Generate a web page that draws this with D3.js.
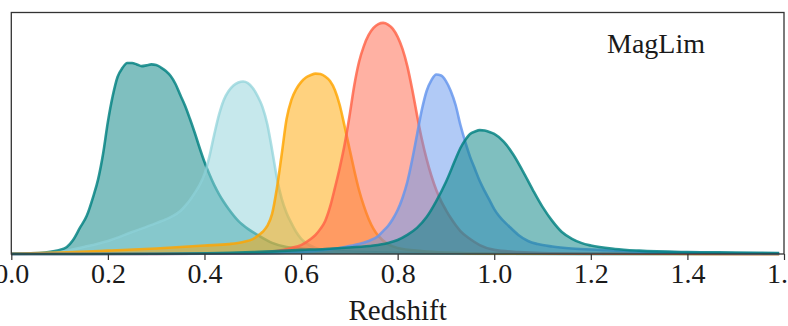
<!DOCTYPE html>
<html>
<head>
<meta charset="utf-8">
<script src="https://cdn.jsdelivr.net/npm/d3@7"></script>
<style>
  html, body { margin: 0; padding: 0; background: #fff; }
  svg { display: block; }
</style>
</head>
<body>
<svg id="chart" width="788" height="326"></svg>
<script>
// Redshift distributions n(z) of the six MagLim tomographic bins, [z, n(z)] pairs
const bin1 = [[0.00,0.02],[0.04,0.03],[0.07,0.06],[0.09,0.12],[0.10,0.17],[0.115,0.29],[0.128,0.58],[0.142,1.08],[0.156,1.57],[0.17,2.40],[0.18,3.11],[0.19,4.14],[0.20,5.47],[0.21,6.54],[0.22,7.33],[0.23,7.70],[0.24,7.91],[0.25,7.91],[0.26,7.85],[0.27,7.78],[0.28,7.81],[0.29,7.85],[0.30,7.83],[0.31,7.72],[0.32,7.58],[0.33,7.37],[0.34,7.04],[0.35,6.58],[0.36,6.13],[0.37,5.59],[0.38,5.01],[0.39,4.39],[0.40,3.81],[0.41,3.31],[0.42,2.86],[0.43,2.48],[0.44,2.15],[0.45,1.86],[0.47,1.37],[0.49,1.04],[0.51,0.79],[0.54,0.46],[0.57,0.29],[0.60,0.23],[0.65,0.14],[0.70,0.10],[0.80,0.05],[0.90,0.02],[1.00,0.01],[1.20,0.00],[1.59,0.00]];
const bin2 = [[0.00,0.00],[0.05,0.02],[0.10,0.08],[0.15,0.29],[0.20,0.54],[0.25,0.91],[0.30,1.28],[0.33,1.53],[0.35,1.78],[0.36,1.99],[0.37,2.24],[0.38,2.53],[0.39,2.86],[0.40,3.31],[0.41,4.02],[0.42,4.93],[0.43,5.76],[0.44,6.38],[0.45,6.75],[0.46,6.98],[0.47,7.10],[0.48,7.14],[0.49,7.08],[0.50,6.87],[0.51,6.54],[0.52,6.09],[0.53,5.38],[0.54,4.31],[0.55,3.15],[0.56,2.28],[0.57,1.70],[0.58,1.28],[0.59,0.91],[0.60,0.64],[0.61,0.46],[0.63,0.25],[0.66,0.12],[0.70,0.06],[0.80,0.02],[1.00,0.00],[1.59,0.00]];
const bin3 = [[0.00,0.01],[0.10,0.06],[0.20,0.14],[0.30,0.23],[0.40,0.35],[0.45,0.41],[0.48,0.50],[0.50,0.62],[0.51,0.75],[0.52,0.91],[0.53,1.16],[0.54,1.66],[0.55,2.73],[0.56,4.14],[0.57,5.59],[0.58,6.38],[0.59,6.83],[0.60,7.12],[0.61,7.31],[0.62,7.41],[0.63,7.47],[0.64,7.45],[0.65,7.35],[0.66,7.16],[0.67,6.79],[0.68,6.17],[0.69,5.30],[0.70,4.39],[0.71,3.48],[0.72,2.65],[0.73,1.99],[0.74,1.45],[0.75,1.04],[0.76,0.75],[0.78,0.41],[0.80,0.25],[0.85,0.12],[0.90,0.06],[1.00,0.02],[1.20,0.01],[1.59,0.00]];
const bin4 = [[0.00,0.00],[0.30,0.00],[0.45,0.02],[0.50,0.04],[0.55,0.12],[0.58,0.25],[0.60,0.37],[0.62,0.62],[0.63,0.79],[0.64,1.04],[0.65,1.37],[0.66,1.95],[0.67,2.73],[0.68,3.56],[0.69,4.51],[0.70,5.67],[0.71,6.96],[0.72,7.95],[0.73,8.61],[0.74,9.07],[0.75,9.36],[0.76,9.52],[0.77,9.57],[0.78,9.50],[0.79,9.32],[0.80,8.99],[0.81,8.49],[0.82,7.78],[0.83,6.83],[0.84,5.76],[0.85,4.76],[0.86,3.93],[0.87,3.23],[0.88,2.65],[0.89,2.19],[0.90,1.82],[0.91,1.49],[0.92,1.20],[0.93,0.95],[0.95,0.62],[0.97,0.37],[1.00,0.17],[1.05,0.08],[1.10,0.04],[1.20,0.02],[1.59,0.00]];
const bin5 = [[0.00,0.00],[0.30,0.00],[0.50,0.02],[0.60,0.08],[0.65,0.17],[0.68,0.25],[0.70,0.33],[0.72,0.41],[0.74,0.54],[0.76,0.75],[0.77,0.95],[0.78,1.16],[0.79,1.45],[0.80,1.82],[0.81,2.32],[0.82,2.98],[0.83,3.89],[0.84,4.93],[0.85,5.96],[0.86,6.75],[0.87,7.20],[0.88,7.43],[0.89,7.39],[0.90,7.16],[0.91,6.75],[0.92,6.17],[0.93,5.34],[0.94,4.64],[0.95,4.02],[0.96,3.52],[0.97,3.02],[0.98,2.61],[0.99,2.24],[1.00,1.86],[1.01,1.57],[1.03,1.16],[1.05,0.79],[1.07,0.54],[1.09,0.41],[1.12,0.31],[1.16,0.23],[1.22,0.17],[1.30,0.10],[1.40,0.06],[1.50,0.03],[1.59,0.02]];
const bin6 = [[0.00,0.00],[0.30,0.01],[0.50,0.08],[0.60,0.17],[0.65,0.21],[0.70,0.27],[0.75,0.35],[0.78,0.46],[0.80,0.58],[0.82,0.79],[0.84,1.08],[0.86,1.53],[0.88,2.19],[0.90,2.98],[0.92,3.93],[0.93,4.39],[0.94,4.72],[0.95,4.97],[0.96,5.07],[0.97,5.13],[0.98,5.11],[0.99,5.05],[1.00,4.97],[1.02,4.64],[1.04,4.10],[1.06,3.40],[1.08,2.65],[1.10,1.95],[1.12,1.37],[1.14,0.91],[1.16,0.64],[1.18,0.46],[1.20,0.35],[1.25,0.21],[1.30,0.14],[1.40,0.08],[1.50,0.06],[1.59,0.04]];

const binColors = ["#008080", "#8dd1d9", "#ffa500", "#ff6347", "#6495ed", "#008080"];
const tickValues = [0.0, 0.2, 0.4, 0.6, 0.8, 1.0, 1.2, 1.4, 1.6];
const tickLabels = ["0.0", "0.2", "0.4", "0.6", "0.8", "1.0", "1.2", "1.4", "1.6"];
const xLabel = "Redshift";
const sampleLabel = "MagLim";

const bins = [bin1, bin2, bin3, bin4, bin5, bin6];

const serifFont = "Liberation Serif, DejaVu Serif, Times New Roman, serif";

const svg = d3.select("#chart");
const plotLeft = 11.3, plotRight = 784, plotTop = 12.5, plotBottom = 254;

const x = d3.scaleLinear().domain([0, 1.6]).range([plotLeft, plotRight]);
const y = d3.scaleLinear().domain([0, 10]).range([plotBottom, plotTop]);

const area = d3.area()
  .x(d => x(d[0]))
  .y0(y(0))
  .y1(d => y(d[1]))
  .curve(d3.curveMonotoneX);

const line = d3.line()
  .x(d => x(d[0]))
  .y(d => y(d[1]))
  .curve(d3.curveMonotoneX);

const g = svg.append("g");
bins.forEach((b, i) => {
  g.append("path")
    .datum(b)
    .attr("d", area)
    .attr("fill", binColors[i])
    .attr("fill-opacity", 0.5)
    .attr("stroke", "none");
  g.append("path")
    .datum(b)
    .attr("d", line)
    .attr("fill", "none")
    .attr("stroke", binColors[i])
    .attr("stroke-opacity", i === 1 ? 0.7 : 0.82)
    .attr("stroke-width", 2.6)
    .attr("stroke-linejoin", "round");
});

// bottom axis
const xAxis = d3.axisBottom(x)
  .tickValues(tickValues)
  .tickFormat((d, i) => tickLabels[i])
  .tickSize(6)
  .tickPadding(3);

const ax = svg.append("g")
  .attr("transform", `translate(0,${plotBottom})`)
  .call(xAxis)
  .attr("font-family", serifFont)
  .attr("font-size", 28);
ax.select(".domain").remove();
ax.selectAll(".tick line").attr("stroke", "#333").attr("stroke-width", 1.2);
ax.selectAll(".tick text")
  .attr("font-family", serifFont)
  .attr("font-size", 28)
  .attr("fill", "#1a1a1a");

// frame
svg.append("rect")
  .attr("x", plotLeft)
  .attr("y", plotTop)
  .attr("width", plotRight - plotLeft)
  .attr("height", plotBottom - plotTop)
  .attr("fill", "none")
  .attr("stroke", "#333")
  .attr("stroke-width", 1.3);

svg.append("text")
  .attr("x", (plotLeft + plotRight) / 2)
  .attr("y", 320)
  .attr("text-anchor", "middle")
  .attr("font-family", serifFont)
  .attr("font-size", 29)
  .attr("fill", "#1a1a1a")
  .text(xLabel);

svg.append("text")
  .attr("x", 656)
  .attr("y", 53)
  .attr("text-anchor", "middle")
  .attr("font-family", serifFont)
  .attr("font-size", 28)
  .attr("fill", "#1a1a1a")
  .text(sampleLabel);
</script>
</body>
</html>
